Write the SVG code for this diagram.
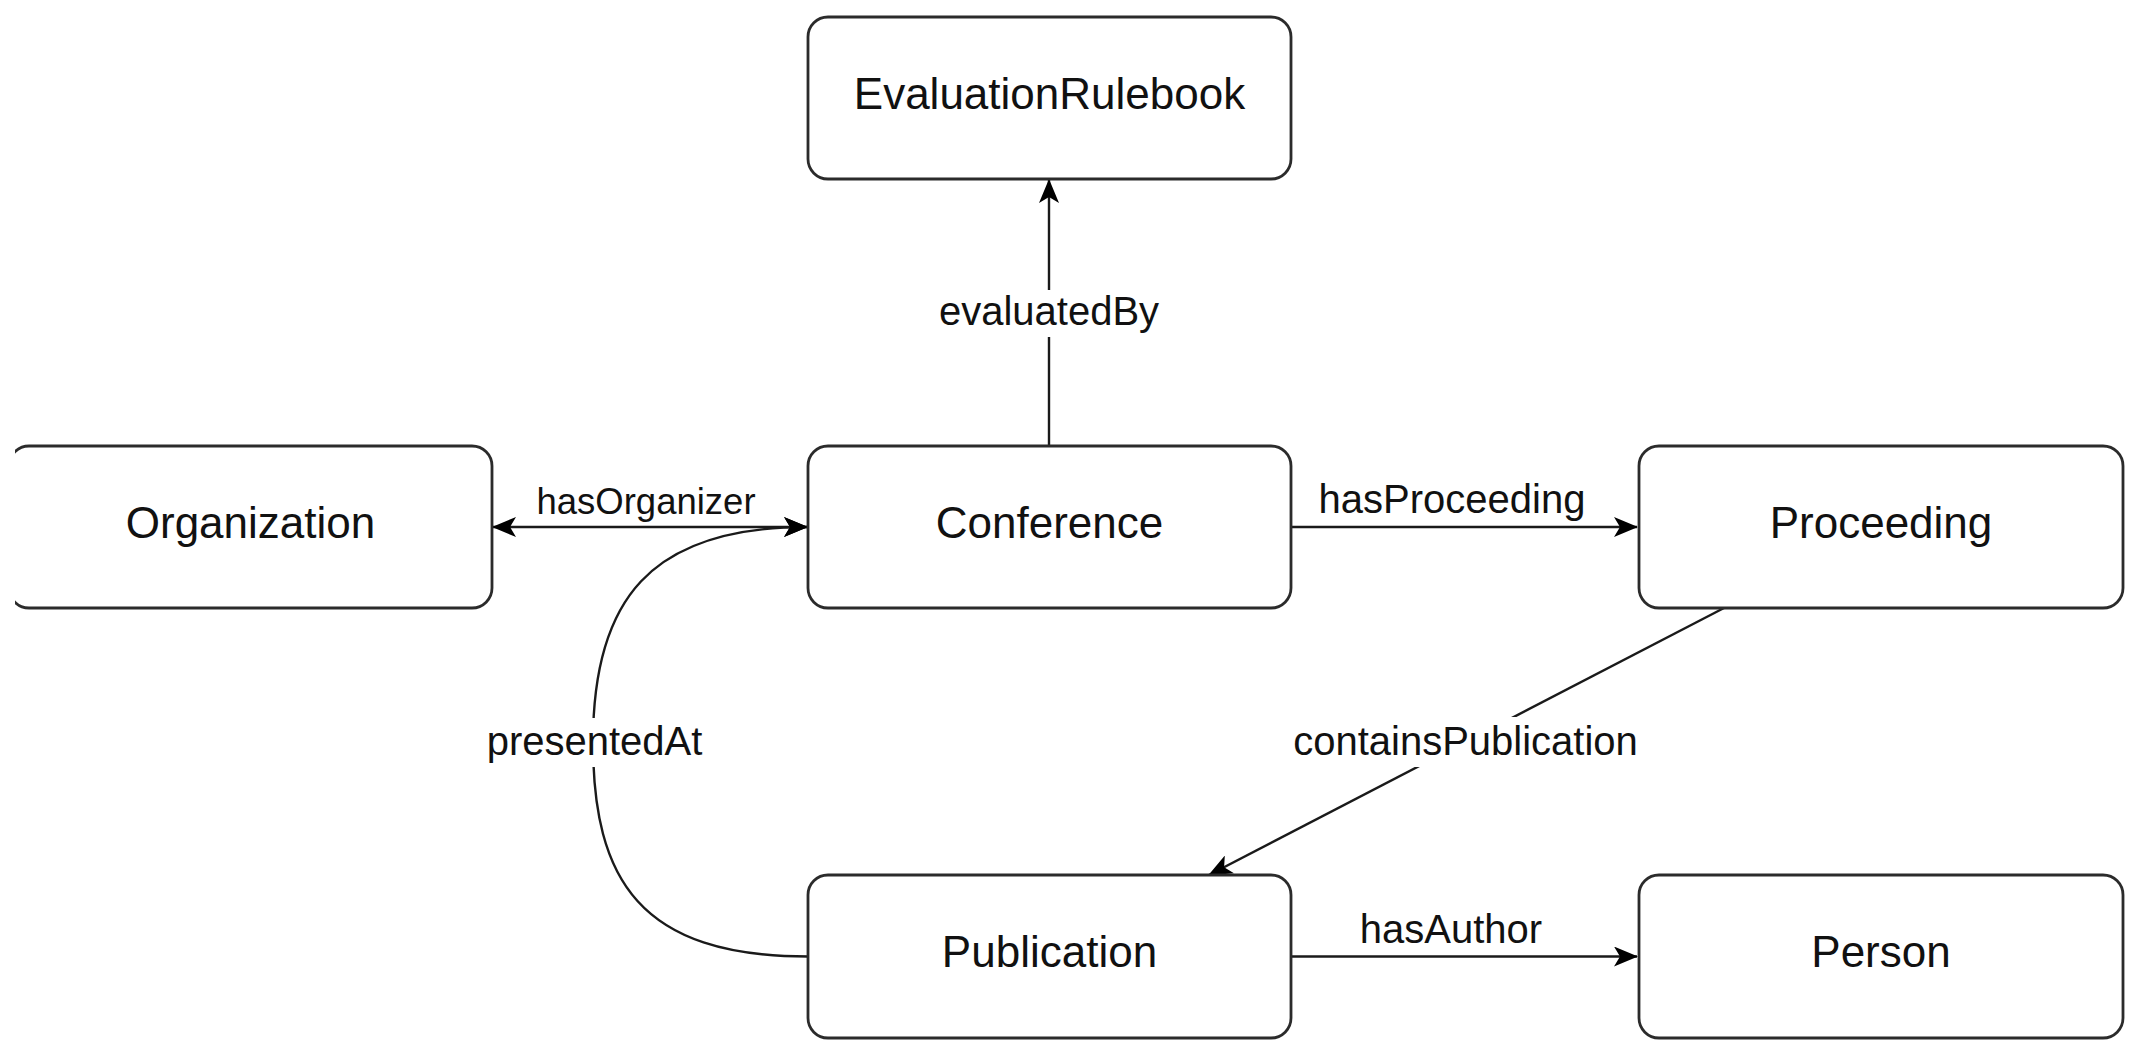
<svg xmlns="http://www.w3.org/2000/svg" width="2141" height="1055" viewBox="0 0 2141 1055">
<style>
.node rect{fill:#fff;stroke:#2b2b2b;stroke-width:2.8}
.node text{font-family:"Liberation Sans",Arial,sans-serif;font-size:44px;fill:#111;text-anchor:middle}
.edge{fill:none;stroke:#1a1a1a;stroke-width:2.4}
.lbl{font-family:"Liberation Sans",Arial,sans-serif;font-size:40px;fill:#111;text-anchor:middle}
.bg{fill:#fff}
</style>
<defs>
<marker id="arr" viewBox="0 0 24 20" refX="23" refY="10" markerWidth="24" markerHeight="20" markerUnits="userSpaceOnUse" orient="auto-start-reverse">
<path d="M0,0 L24,10 L0,20 L6,10 Z" fill="#000"/>
</marker>
<clipPath id="cut"><rect x="15" y="0" width="2126" height="1055"/></clipPath>
</defs>
<rect width="2141" height="1055" fill="#fff"/>
<g id="connectors">
<path class="edge" d="M1049 446 L1049 180" marker-end="url(#arr)"/>
<path class="edge" d="M493 527 L807 527" marker-start="url(#arr)" marker-end="url(#arr)"/>
<path class="edge" d="M1290 527 L1637 527" marker-end="url(#arr)"/>
<path class="edge" d="M808 956.5 C640 956.5 593 880 593 742 C593 600 650 527 807 527" marker-end="url(#arr)"/>
<path class="edge" d="M1724 608 L1209 875" stroke="#444" marker-end="url(#arr)"/>
<path class="edge" d="M1290 956.5 L1637 956.5" marker-end="url(#arr)"/>
<rect class="bg" x="936" y="290" width="226" height="47"/>
<text class="lbl" x="1049" y="325">evaluatedBy</text>
<text class="lbl" x="646" y="514" style="font-size:36.5px">hasOrganizer</text>
<text class="lbl" x="1452" y="513">hasProceeding</text>
<rect class="bg" x="484" y="718" width="222" height="49"/>
<text class="lbl" x="594.5" y="755">presentedAt</text>
<rect class="bg" x="1290" y="717" width="352" height="50"/>
<text class="lbl" x="1465.5" y="755">containsPublication</text>
<text class="lbl" x="1451" y="943">hasAuthor</text>
</g>
<g id="node-evaluationrulebook" class="node"><rect x="808" y="17" width="483" height="162" rx="20"/><text x="1049.5" y="109">EvaluationRulebook</text></g>
<g id="node-organization" class="node" clip-path="url(#cut)"><rect x="9" y="446" width="483" height="162" rx="20"/><text x="250.5" y="538">Organization</text></g>
<g id="node-conference" class="node"><rect x="808" y="446" width="483" height="162" rx="20"/><text x="1049.5" y="538">Conference</text></g>
<g id="node-proceeding" class="node"><rect x="1639" y="446" width="484" height="162" rx="20"/><text x="1881" y="538">Proceeding</text></g>
<g id="node-publication" class="node"><rect x="808" y="875" width="483" height="163" rx="20"/><text x="1049.5" y="967">Publication</text></g>
<g id="node-person" class="node"><rect x="1639" y="875" width="484" height="163" rx="20"/><text x="1881" y="967">Person</text></g>
</svg>
